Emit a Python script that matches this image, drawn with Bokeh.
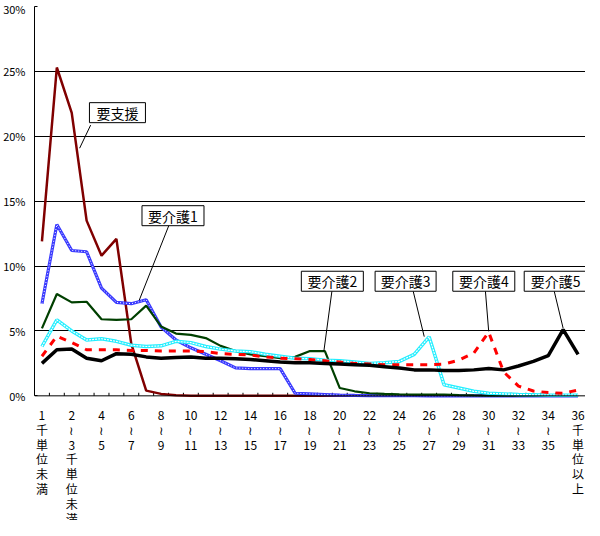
from bokeh.plotting import figure
from bokeh.models import Range1d, FixedTicker, Span
from bokeh.embed import file_html
from bokeh.resources import INLINE
from bokeh.core.properties import value

# ---------------- data ----------------
series_names = ["要支援", "要介護1", "要介護2", "要介護3", "要介護4", "要介護5"]

youshien = [11.9, 25.3, 21.8, 13.5, 10.8, 12.1, 4.0, 0.4, 0.15, 0.05,
            0, 0, 0, 0, 0, 0, 0, 0, 0, 0, 0, 0, 0, 0, 0, 0, 0, 0, 0, 0,
            0, 0, 0, 0, 0, 0, 0]
kaigo1 = [7.1, 13.2, 11.2, 11.1, 8.3, 7.2, 7.1, 7.4, 5.3, 4.3, 3.7, 3.2, 2.7,
          2.15, 2.1, 2.1, 2.1, 0.2, 0.15, 0.1, 0.05, 0.03, 0.02, 0.02, 0.01,
          0.01, 0, 0, 0, 0, 0, 0, 0, 0, 0, 0, 0]
kaigo2 = [5.2, 7.85, 7.2, 7.25, 5.9, 5.85, 5.9, 6.95, 5.35, 4.8, 4.7, 4.45,
          3.85, 3.45, 3.2, 3.05, 2.9, 3.0, 3.45, 3.45, 0.6, 0.35, 0.2, 0.15,
          0.12, 0.1, 0.1, 0.1, 0.05, 0.03, 0.02, 0.02, 0.01, 0.01, 0, 0, 0]
kaigo3 = [3.8, 5.85, 5.0, 4.3, 4.4, 4.2, 3.9, 3.8, 3.85, 4.2, 4.1, 3.8, 3.6,
          3.45, 3.4, 3.2, 3.05, 2.9, 2.85, 2.75, 2.7, 2.6, 2.5, 2.55, 2.65,
          3.2, 4.55, 0.85, 0.6, 0.35, 0.2, 0.15, 0.1, 0.08, 0.05, 0.05, 0.05]
kaigo4 = [3.05, 4.6, 4.1, 3.55, 3.55, 3.55, 3.5, 3.5, 3.45, 3.45, 3.45, 3.4,
          3.25, 3.2, 3.15, 3.0, 2.9, 2.85, 2.8, 2.7, 2.6, 2.5, 2.45, 2.4, 2.4,
          2.4, 2.4, 2.45, 2.75, 3.3, 4.9, 1.85, 0.75, 0.37, 0.25, 0.2, 0.45]
kaigo5 = [2.5, 3.55, 3.6, 2.9, 2.7, 3.25, 3.2, 3.0, 2.9, 2.95, 3.0, 2.9, 2.9,
          2.85, 2.8, 2.7, 2.6, 2.55, 2.55, 2.5, 2.45, 2.4, 2.35, 2.25, 2.15,
          2.0, 2.0, 1.95, 1.95, 2.0, 2.1, 2.0, 2.3, 2.65, 3.1, 5.1, 3.2]

n_cats = 37
x_tick_labels = [
    "1\n千\n単\n位\n未\n満",
    "2\n≀\n3\n千\n単\n位\n未\n満",
    "4\n≀\n5", "6\n≀\n7", "8\n≀\n9", "10\n≀\n11", "12\n≀\n13",
    "14\n≀\n15", "16\n≀\n17", "18\n≀\n19", "20\n≀\n21", "22\n≀\n23",
    "24\n≀\n25", "26\n≀\n27", "28\n≀\n29", "30\n≀\n31", "32\n≀\n33",
    "34\n≀\n35",
    "36\n千\n単\n位\n以\n上",
]
y_ticks = [0, 5, 10, 15, 20, 25, 30]
y_tick_labels = ["0%", "5%", "10%", "15%", "20%", "25%", "30%"]

# callout positions (box centre, pointer start, pointer end) in data units
callout_x = [5.57, 9.3, 20.0, 24.92, 30.17, 35.0]
callout_y = [21.82, 13.88, 8.83, 8.83, 8.83, 8.83]
callout_w = [56, 62, 62, 61, 62, 63]
ptr_x0 = [3.77, 9.03, 19.97, 25.43, 30.28, 34.9]
ptr_y0 = [20.86, 13.15, 8.06, 8.06, 8.06, 8.06]
ptr_x1 = [3.03, 7.03, 19.43, 26.17, 30.5, 35.5]
ptr_y1 = [19.08, 7.36, 3.43, 4.56, 4.97, 5.2]

# ---------------- layout numbers ----------------
JP = "Noto Sans CJK JP"
px_per_unit = 12.7          # 381 px for 30 %
below_px = 122              # room under the 0 % line for the stacked labels
xs = [i + 0.5 for i in range(n_cats)]
label_pos = [i + 0.5 for i in range(0, n_cats, 2)]
boundaries = list(range(n_cats + 1))

p = figure(width=585, height=520, x_range=Range1d(0, n_cats),
           y_range=Range1d(-below_px / px_per_unit, 30),
           x_axis_location=None,
           output_backend="svg", toolbar_location=None,
           min_border_left=32, min_border_right=0, min_border_top=6,
           min_border_bottom=0)
p.outline_line_color = None
p.background_fill_color = "white"
p.border_fill_color = "white"

p.xgrid.visible = False
p.ygrid.ticker = FixedTicker(ticks=y_ticks[1:-1])
p.ygrid.grid_line_color = "black"
p.ygrid.grid_line_width = 1

p.yaxis.ticker = FixedTicker(ticks=y_ticks)
p.yaxis.bounds = (0, 30)
p.yaxis.major_label_overrides = {t: l for t, l in zip(y_ticks, y_tick_labels)}
p.yaxis.major_tick_in = 3
p.yaxis.major_tick_out = 0
p.yaxis.minor_tick_line_color = None
p.yaxis.major_label_standoff = 9
p.yaxis.major_label_text_font = JP
p.yaxis.major_label_text_font_size = "11px"
p.yaxis.major_label_text_color = "black"
p.yaxis.axis_line_color = "black"

# category axis: baseline, inward ticks at category boundaries, stacked labels
p.add_layout(Span(location=0, dimension="width", line_color="black", line_width=1))
p.segment(x0=boundaries, y0=[0] * len(boundaries), x1=boundaries,
          y1=[3 / px_per_unit] * len(boundaries), line_color="black", line_width=1)
p.text(x=label_pos, y=[-10 / px_per_unit] * len(label_pos), text=x_tick_labels,
       text_align="center", text_baseline="top", text_font=value(JP),
       text_font_size="12px", text_line_height=0.87, text_color="black")

# ---------------- series ----------------
p.line(xs, youshien, line_color="#800000", line_width=2.5)
p.line(xs, kaigo1, line_color="#3a3aff", line_width=3.2)
p.line(xs, kaigo1, line_color="white", line_width=1, line_dash="1 2")
p.line(xs, kaigo2, line_color="#004000", line_width=2.2)
p.line(xs, kaigo3, line_color="#22eeff", line_width=3.5)
p.line(xs, kaigo3, line_color="white", line_width=1.2, line_dash="2 1")
p.line(xs, kaigo4, line_color="#ff0000", line_width=3, line_dash="7 7")
p.line(xs, kaigo5, line_color="black", line_width=3.5)

# ---------------- callouts ----------------
p.segment(x0=ptr_x0, y0=ptr_y0, x1=ptr_x1, y1=ptr_y1, line_color="black", line_width=1)
p.rect(x=callout_x, y=callout_y, width=callout_w, height=20,
       width_units="screen", height_units="screen",
       fill_color="white", line_color="black", line_width=1)
p.text(x=callout_x, y=callout_y, text=series_names, text_align="center",
       text_baseline="middle", text_font=value(JP), text_font_size="14px",
       text_color="black")

open("out.html", "w").write(file_html(p, INLINE))
